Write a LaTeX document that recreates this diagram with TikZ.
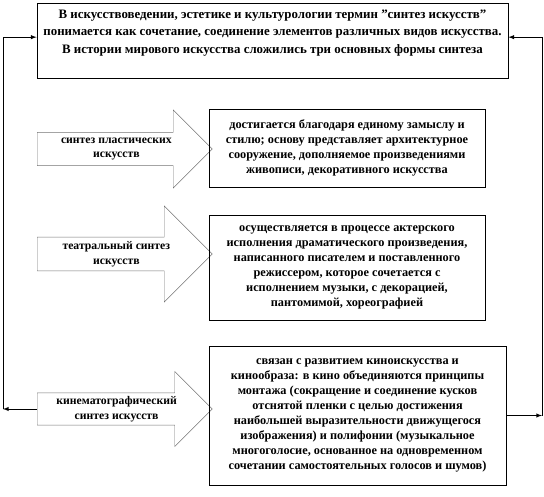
\documentclass[tikz,border=0pt]{standalone}
\usepackage{fontspec}
\setmainfont{Liberation Serif}
\usepackage{tikz}
\usetikzlibrary{shapes,arrows,positioning,calc}

\begin{document}
\begin{tikzpicture}[x=0.3mm, y=-0.3mm, >=latex, font=\bfseries\fontsize{10.5}{12.8}\selectfont]
  \tikzstyle{box} = [rectangle, draw, line width=0.7pt, align=center, inner sep=2pt]
  \tikzstyle{kind} = [single arrow, draw=black!55, line width=0.4pt, align=center, single arrow head indent=0pt, minimum height=5.25cm, anchor=tail, inner sep=1pt, font=\bfseries\fontsize{10}{12.5}\selectfont]
  \tikzstyle{link} = [line width=0.7pt]

  \useasboundingbox (0,0) rectangle (544,497);

  \node[box, minimum width=14.13cm, minimum height=2.25cm, font=\bfseries\fontsize{11}{15}\selectfont] (top) at (272.5,40.5)
    {В искусствоведении, эстетике и культурологии термин \char"22синтез искусств\char"22\\
     понимается как сочетание, соединение элементов различных видов искусства.\\
     В истории мирового искусства сложились три основных формы синтеза\\ \mbox{}};

  \node[kind, minimum width=2.34cm, single arrow head extend=0.51cm] (plastic) at (37,149)
    {синтез пластических\\искусств};
  \node[box, minimum width=8.28cm, minimum height=2.34cm] (plastic_d) at (347,148)
    {достигается благодаря единому замыслу и\\
     стилю; основу представляет архитектурное\\
     сооружение, дополняемое произведениями\\
     живописи, декоративного искусства};

  \node[kind, minimum width=2.88cm, single arrow head extend=0.78cm] (theatre) at (37,254)
    {театральный синтез\\искусств};
  \node[box, minimum width=8.28cm, minimum height=3.15cm] (theatre_d) at (347,267.5)
    {осуществляется в процессе актерского\\
     исполнения драматического произведения,\\
     написанного писателем и поставленного\\
     режиссером, которое сочетается с\\
     исполнением музыки, с декорацией,\\
     пантомимой, хореографией};

  \node[kind, minimum width=2.25cm, single arrow head extend=0.555cm] (cinema) at (37,409)
    {кинематографический\\синтез искусств};
  \node[box, minimum width=8.91cm, minimum height=4.17cm] (cinema_d) at (357.5,415.5)
    {связан с развитием киноискусства и\\
     кинообраза: в кино объединяются принципы\\
     монтажа (сокращение и соединение кусков\\
     отснятой пленки с целью достижения\\
     наибольшей выразительности движущегося\\
     изображения) и полифонии (музыкальное\\
     многоголосие, основанное на одновременном\\
     сочетании самостоятельных голосов и шумов)};

  % feedback lines back to the top box
  \coordinate (lc) at (3,409);
  \coordinate (rc) at (542,415.5);
  \draw[link,->] (cinema.tail) -- (lc);
  \draw[link,->] (lc) |- ([yshift=1mm]top.west);
  \draw[link,->] (cinema_d.east) -- (rc);
  \draw[link,->] (rc) |- ([yshift=1mm]top.east);
\end{tikzpicture}
\end{document}
